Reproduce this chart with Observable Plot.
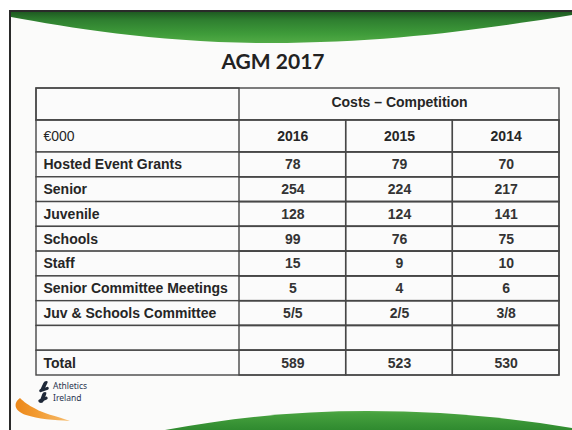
<!DOCTYPE html>
<html>
<head>
<meta charset="utf-8">
<script src="https://cdn.jsdelivr.net/npm/d3@7"></script>
<script src="https://cdn.jsdelivr.net/npm/@observablehq/plot@0.6"></script>
<style>
  html, body { margin: 0; padding: 0; background: #fff; }
  #slide { position: relative; width: 572px; height: 430px; overflow: hidden; background: #fff; }
  #frame { position: absolute; left: 9px; top: 10px; width: 620px; height: 480px;
           border-left: 2px solid #2a2a2a; border-top: 2px solid #2a2a2a; background: #fbfbfa; }
  #topSwoosh { position: absolute; left: 11px; top: 12px; width: 561px; height: 34px;
               background: linear-gradient(#1f5a22 0%, #2f8030 25%, #3f9c3a 65%, #58b04a 100%);
               clip-path: path("M0 0 H561 V3 C 480 16, 380 31, 259 31 C 150 31, 60 16, 0 5 Z"); }
  #bottomSwoosh { position: absolute; left: 0; top: 405px; width: 572px; height: 25px;
               background: linear-gradient(#6cbd56 0%, #46a13e 35%, #2f8a2f 100%);
               clip-path: path("M165 25 C 235 12, 300 6, 367 6 C 440 6, 505 12, 572 23 V 25 Z"); }
  #orange { position: absolute; left: 12px; top: 396px; width: 60px; height: 26px;
            clip-path: path("M8 2 C 1 7, 2 15, 14 19 C 26 23, 42 24, 58 25 C 44 20, 30 17, 24 13 C 16 9, 12 6, 8 2 Z");
            background: linear-gradient(90deg, #ea8416, #f29a30 40%, #f6bf72 100%); }
  #title { position: absolute; left: 173px; width: 200px; top: 48px; text-align: center;
           font-family: Lato, "Open Sans", sans-serif; font-weight: 700; font-size: 21px; color: #222; }
  .plotwrap { position: absolute; left: 0; }
  #logo { position: absolute; left: 38px; top: 380px; width: 80px; height: 26px; }
  #logo .bar { position: absolute; background: #1e2838; border-radius: 2px; }
  #logo .l1, #logo .l2 { position: absolute; left: 15px; font-family: "Noto Sans", sans-serif;
               font-size: 8.5px; line-height: 11px; color: #2a3550; white-space: nowrap; }
  #logo .l1 { top: 0px; }
  #logo .l2 { top: 12px; }
</style>
</head>
<body>
<div id="slide">
  <div id="frame"></div>
  <div id="topSwoosh"></div>
  <div id="bottomSwoosh"></div>
  <div id="orange"></div>
  <div id="title">AGM 2017</div>
  <div id="logo">
    <div class="bar" style="left:4px;top:1px;width:4px;height:10px;transform:skewX(-25deg)"></div>
    <div class="bar" style="left:1px;top:8px;width:10px;height:3px;transform:rotate(-20deg)"></div>
    <div class="bar" style="left:3px;top:12px;width:4px;height:11px;transform:skewX(-20deg)"></div>
    <div class="bar" style="left:0px;top:18px;width:10px;height:3px;transform:rotate(-25deg)"></div>
    <div class="l1">Athletics</div>
    <div class="l2">Ireland</div>
  </div>
  <div id="header" class="plotwrap" style="top:80px"></div>
  <div id="body" class="plotwrap" style="top:150px"></div>
</div>
<script>
// ---- data ----
const years = ["2016", "2015", "2014"];
const headerTitle = "Costs – Competition";
const unitLabel = "€000";
const rowLabels = ["Hosted Event Grants", "Senior", "Juvenile", "Schools", "Staff",
                   "Senior Committee Meetings", "Juv & Schools Committee", "", "Total"];
const values2016 = ["78", "254", "128", "99", "15", "5", "5/5", "", "589"];
const values2015 = ["79", "224", "124", "76", "9", "4", "2/5", "", "523"];
const values2014 = ["70", "217", "141", "75", "10", "6", "3/8", "", "530"];

// ---- layout / style ----
const W = 572;
const tableLeft = 36, labelSplit = 239, tableRight = 559;
const border = "#474747";
const cellFill = "#fbfbfb";
const font = "'Liberation Sans', Arial, sans-serif";
const baseStyle = {background: "transparent", fontFamily: font, fontSize: "14px", color: "#222", overflow: "visible"};
const xScale = {type: "band", domain: years, range: [labelSplit, tableRight], padding: 0, round: false, axis: null};

const headerRows = ["group", "year"];
const headerPlot = Plot.plot({
  width: W, height: 72,
  marginTop: 8, marginBottom: 0, marginLeft: tableLeft, marginRight: W - tableRight,
  style: baseStyle,
  x: xScale,
  y: {type: "band", domain: headerRows, padding: 0, round: false, axis: null},
  marks: [
    Plot.cell(headerRows, {y: d => d, fill: cellFill, stroke: border, strokeWidth: 1.4}),
    Plot.cell(["group"], {y: d => d, fill: "none", stroke: border, strokeWidth: 1.4, insetRight: tableRight - labelSplit}),
    Plot.cell(years, {x: d => d, y: () => "year", fill: "none", stroke: border, strokeWidth: 1.4}),
    Plot.text([headerTitle], {x: () => years[1], y: () => "group", text: d => d, fontWeight: "bold", fill: "#262626", dy: -2}),
    Plot.text([unitLabel], {y: () => "year", text: d => d, frameAnchor: "left", textAnchor: "start", dx: 7, fill: "#262626"}),
    Plot.text(years, {x: d => d, y: () => "year", text: d => d, fontWeight: "bold", fill: "#262626"})
  ]
});
document.getElementById("header").appendChild(headerPlot);

const valueColumns = [values2016, values2015, values2014];
const rowIdx = d3.range(rowLabels.length);
const cells = rowIdx.flatMap(i => years.map((yr, j) => ({row: i, year: yr, value: valueColumns[j][i]})));

const bodyPlot = Plot.plot({
  width: W, height: 228,
  marginTop: 2, marginBottom: 3, marginLeft: tableLeft, marginRight: W - tableRight,
  style: baseStyle,
  x: xScale,
  y: {type: "band", domain: rowIdx, padding: 0, round: false, axis: null},
  marks: [
    Plot.cell(rowIdx, {y: d => d, fill: cellFill, stroke: border, strokeWidth: 1.4}),
    Plot.cell(cells, {x: "year", y: "row", fill: "none", stroke: border, strokeWidth: 1.4}),
    Plot.text(rowIdx, {y: d => d, text: i => rowLabels[i], frameAnchor: "left", textAnchor: "start", dx: 7, fontWeight: "bold", fill: "#262626"}),
    Plot.text(cells, {x: "year", y: "row", text: "value", fontWeight: "bold", fill: "#333"})
  ]
});
document.getElementById("body").appendChild(bodyPlot);
</script>
</body>
</html>
